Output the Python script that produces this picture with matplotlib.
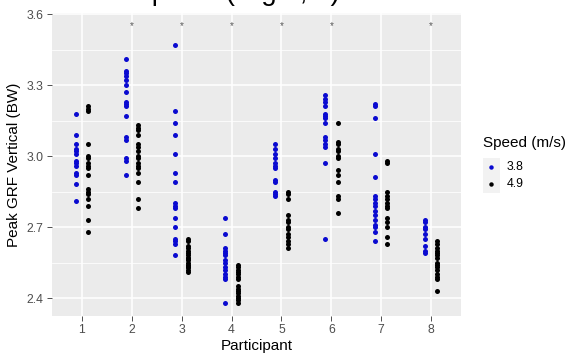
import matplotlib
matplotlib.use("Agg")
import matplotlib.pyplot as plt
from matplotlib.patches import Rectangle
from matplotlib.lines import Line2D

plt.rcParams['font.family'] = ['Liberation Sans', 'DejaVu Sans']

# Peak vertical GRF (BW) per participant
participants = [1, 2, 3, 4, 5, 6, 7, 8]
speeds = ['3.8', '4.9']
speed_colors = ['#0a0ad0', '#000000']
sig_participants = [2, 3, 4, 5, 6, 8]
sig_level = 3.56

grf_38 = [
    [3.18, 3.09, 3.05, 3.03, 3.02, 3.01, 2.98, 2.97, 2.96, 2.93, 2.92, 2.88, 2.81],
    [3.41, 3.36, 3.35, 3.34, 3.32, 3.30, 3.27, 3.23, 3.22, 3.21, 3.17, 3.08, 3.07, 2.99, 2.98, 2.92],
    [3.47, 3.19, 3.14, 3.09, 3.01, 2.93, 2.89, 2.80, 2.79, 2.78, 2.74, 2.70, 2.65, 2.64, 2.63, 2.58],
    [2.74, 2.67, 2.61, 2.60, 2.59, 2.58, 2.56, 2.55, 2.53, 2.52, 2.50, 2.49, 2.48, 2.38],
    [3.05, 3.03, 3.01, 2.99, 2.97, 2.96, 2.95, 2.90, 2.89, 2.85, 2.84, 2.83],
    [3.26, 3.24, 3.23, 3.21, 3.18, 3.17, 3.16, 3.14, 3.08, 3.07, 3.05, 3.04, 2.97, 2.65],
    [3.22, 3.21, 3.16, 3.01, 2.91, 2.83, 2.82, 2.80, 2.79, 2.77, 2.75, 2.73, 2.71, 2.70, 2.68, 2.64],
    [2.73, 2.72, 2.70, 2.69, 2.67, 2.65, 2.62, 2.60, 2.59],
]
grf_49 = [
    [3.21, 3.20, 3.19, 3.05, 3.00, 2.99, 2.97, 2.96, 2.95, 2.92, 2.86, 2.85, 2.84, 2.82, 2.79, 2.73, 2.68],
    [3.13, 3.12, 3.11, 3.09, 3.05, 3.04, 3.02, 3.00, 2.99, 2.97, 2.96, 2.95, 2.93, 2.89, 2.82, 2.78],
    [2.65, 2.64, 2.62, 2.61, 2.60, 2.59, 2.58, 2.57, 2.57, 2.56, 2.55, 2.54, 2.53, 2.53, 2.52, 2.51],
    [2.54, 2.53, 2.52, 2.51, 2.50, 2.49, 2.48, 2.45, 2.44, 2.43, 2.42, 2.41, 2.40, 2.39, 2.38],
    [2.85, 2.84, 2.82, 2.75, 2.73, 2.72, 2.70, 2.69, 2.67, 2.66, 2.64, 2.63, 2.61],
    [3.14, 3.06, 3.05, 3.03, 3.02, 3.00, 2.99, 2.94, 2.92, 2.89, 2.83, 2.82, 2.76],
    [2.98, 2.97, 2.85, 2.83, 2.82, 2.80, 2.79, 2.78, 2.74, 2.72, 2.70, 2.66, 2.63],
    [2.64, 2.63, 2.61, 2.60, 2.59, 2.58, 2.57, 2.55, 2.54, 2.53, 2.52, 2.50, 2.49, 2.48, 2.43],
]

W, H = 567, 356
fig = plt.figure(figsize=(W / 100, H / 100), dpi=100)
ax = fig.add_axes([52 / W, 1 - 316 / H, (461 - 52) / W, (316 - 13) / H])
ax.set_facecolor('#EBEBEB')
for s in ax.spines.values():
    s.set_visible(False)

ax.set_xlim(0.4, 8.6)
ax.set_ylim(2.324, 3.605)
ax.set_yticks([2.4, 2.7, 3.0, 3.3, 3.6])
ax.set_yticks([2.55, 2.85, 3.15, 3.45], minor=True)
ax.set_xticks(participants)
ax.grid(True, which='major', color='white', lw=1.1)
ax.grid(True, which='minor', axis='y', color='white', lw=0.55)
ax.set_axisbelow(True)
ax.tick_params(which='major', length=3.5, width=0.6, color='#333333',
               labelsize=8.8, labelcolor='#4D4D4D', pad=2.5)
ax.tick_params(which='minor', length=0)
ax.set_yticklabels(['2.4', '2.7', '3.0', '3.3', '3.6'])

# dodged points
offsets = [-0.125, 0.125]
for series, off, col in zip([grf_38, grf_49], offsets, speed_colors):
    for p, vals in zip(participants, series):
        ax.plot([p + off] * len(vals), vals, 'o', ms=3.6, color=col, mec=col, mew=0)

# significance markers
for p in sig_participants:
    ax.text(p, sig_level - 0.024, '*', ha='center', va='baseline', fontsize=7,
            color='#555555')

ax.set_xlabel('Participant', fontsize=11, labelpad=2)
ax.set_ylabel('Peak GRF Vertical (BW)', fontsize=11, labelpad=4)

# title (mostly cut off at top of image)
fig.text(49.5 / W, 1 + 0.2 / H, 'Peak Impacts (Right, L)', fontsize=20,
         ha='left', va='baseline')

# legend
fig.text(483 / W, 1 - 143 / H, 'Speed (m/s)', fontsize=11, ha='left', va='center')
for i, (lab, col) in enumerate(zip(speeds, speed_colors)):
    yc = 166.7 + i * 17.3
    fig.add_artist(Rectangle((482.5 / W, 1 - (yc + 8.6) / H), 17.3 / W, 17.3 / H,
                             transform=fig.transFigure, color='#F2F2F2', lw=0))
    fig.add_artist(Line2D([491 / W], [1 - yc / H], marker='o', ms=3.2, color=col,
                          mew=0, transform=fig.transFigure))
    fig.text(507 / W, 1 - yc / H, lab, fontsize=8.8, ha='left', va='center')

fig.savefig('out.png', dpi=100)
